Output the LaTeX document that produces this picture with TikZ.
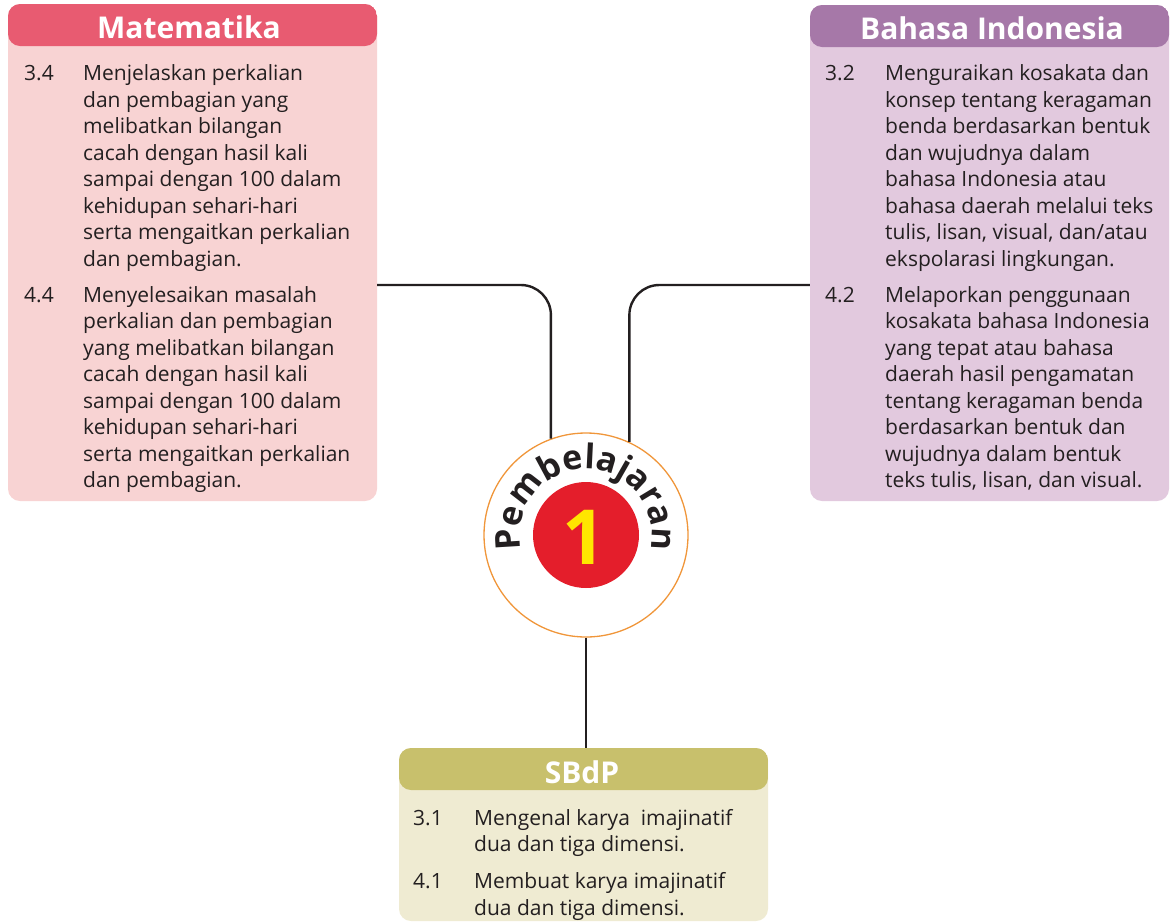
\documentclass[tikz,border=0pt]{standalone}
\usepackage{fontspec}
\setmainfont{Open Sans}
\usetikzlibrary{decorations.text}
\definecolor{txt}{HTML}{231F20}
\definecolor{matH}{HTML}{E85B71}
\definecolor{matB}{HTML}{F8D3D3}
\definecolor{biH}{HTML}{A678A8}
\definecolor{biB}{HTML}{E2C9DE}
\definecolor{sbH}{HTML}{C8C06C}
\definecolor{sbB}{HTML}{EFEBD2}
\definecolor{ringC}{HTML}{F0963A}
\definecolor{redC}{HTML}{E41E2B}
\definecolor{yelC}{HTML}{FFE600}
\tikzset{
  panel/.style 2 args={rectangle, rounded corners=12pt, fill=#2, inner sep=0pt,
    path picture={\fill[#1] (path picture bounding box.north west) rectangle ([yshift=-42pt]path picture bounding box.north east);}},
  headtxt/.style={text=white, font=\fontsize{30}{32}\selectfont\bfseries, inner sep=0pt},
  bodytxt/.style={text=txt, font=\fontsize{21}{26.5}\selectfont, align=left, anchor=north west, inner sep=0pt},
  conn/.style={draw=txt, line width=2.4pt, rounded corners=30pt},
}
\newcommand{\nm}[1]{\makebox[59pt][l]{#1}}
\newcommand{\ind}{\hspace*{59pt}}
\begin{document}
\begin{tikzpicture}[x=1pt,y=-1pt]
\useasboundingbox (0,0) rectangle (1170,922);
% panels
\node[panel={matH}{matB}, minimum width=369pt, minimum height=497pt] (mat) at (192.5,252.5) {};
\node[panel={biH}{biB}, minimum width=359pt, minimum height=496pt] (bi) at (989.5,253) {};
\node[panel={sbH}{sbB}, minimum width=369pt, minimum height=173pt] (sb) at (583.5,834.5) {};
% headers
\node[headtxt] (matT) at (189,27) {Matematika};
\node[headtxt] (biT) at (992,28) {Bahasa Indonesia};
\node[headtxt] (sbT) at (582,772) {SBdP};
% bodies
\node[bodytxt] (matX) at (24,64.5) {\nm{3.4}Menjelaskan perkalian\\
\ind dan pembagian yang\\
\ind melibatkan bilangan\\
\ind cacah dengan hasil kali\\
\ind sampai dengan 100 dalam\\
\ind kehidupan sehari-hari\\
\ind serta mengaitkan perkalian\\
\ind dan pembagian.\\[9.5pt]
\nm{4.4}Menyelesaikan masalah\\
\ind perkalian dan pembagian\\
\ind yang melibatkan bilangan\\
\ind cacah dengan hasil kali\\
\ind sampai dengan 100 dalam\\
\ind kehidupan sehari-hari\\
\ind serta mengaitkan perkalian\\
\ind dan pembagian.};
\node[bodytxt] (biX) at (825,64.5) {\nm{3.2}\hspace*{1pt}Menguraikan kosakata dan\\
\ind\hspace*{1pt}konsep tentang keragaman\\
\ind\hspace*{1pt}benda berdasarkan bentuk\\
\ind\hspace*{1pt}dan wujudnya dalam\\
\ind\hspace*{1pt}bahasa Indonesia atau\\
\ind\hspace*{1pt}bahasa daerah melalui teks\\
\ind\hspace*{1pt}tulis, lisan, visual, dan/atau\\
\ind\hspace*{1pt}ekspolarasi lingkungan.\\[9.5pt]
\nm{4.2}\hspace*{1pt}Melaporkan penggunaan\\
\ind\hspace*{1pt}kosakata bahasa Indonesia\\
\ind\hspace*{1pt}yang tepat atau bahasa\\
\ind\hspace*{1pt}daerah hasil pengamatan\\
\ind\hspace*{1pt}tentang keragaman benda\\
\ind\hspace*{1pt}berdasarkan bentuk dan\\
\ind\hspace*{1pt}wujudnya dalam bentuk\\
\ind\hspace*{1pt}teks tulis, lisan, dan visual.};
\node[bodytxt] (sbX) at (413,809) {\nm{3.1}\hspace*{2pt}Mengenal karya\ \ imajinatif\\
\ind\hspace*{2pt}dua dan tiga dimensi.\\[10.5pt]
\nm{4.1}\hspace*{2pt}Membuat karya imajinatif\\
\ind\hspace*{2pt}dua dan tiga dimensi.};
% centre
\node[circle, draw=ringC, line width=1.3pt, fill=white, minimum size=204pt, inner sep=0pt] (ring) at (586,535) {};
\node[circle, fill=redC, minimum size=106pt, inner sep=0pt] (red) at (586,535) {};
\node[text=yelC, font=\fontsize{76}{80}\selectfont\bfseries, inner sep=0pt] (one) at (584,537) {1};
\path[decorate, decoration={text along path, text align=center,
  text={|\fontsize{34}{36}\selectfont\bfseries\color{txt}|Pembelajaran}}]
  (586,535) ++(-193:66) arc[start angle=-193, end angle=13, radius=66];
% connectors
\draw[conn] (mat.east |- 0,285) -| (ring.110.7);
\draw[conn] (bi.west |- 0,285) -| (ring.65.7);
\draw[conn] (ring.south) -- (ring.south |- sb.north);
\end{tikzpicture}
\end{document}
